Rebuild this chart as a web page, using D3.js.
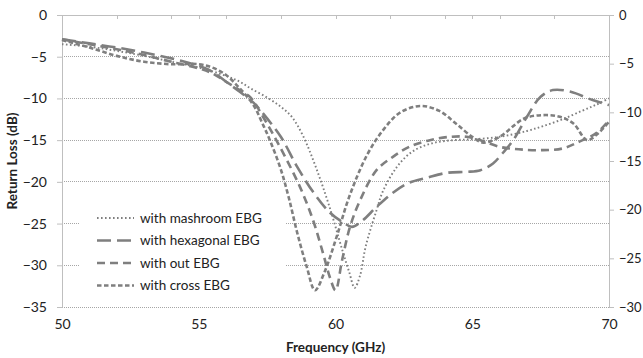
<!DOCTYPE html>
<html><head><meta charset="utf-8">
<script src="https://cdn.jsdelivr.net/npm/d3@7"></script>
<style>
body{margin:0;background:#fff;}
svg{display:block;}
text{font-family:Lato,"Open Sans",sans-serif;fill:#222;}
</style></head><body>
<svg id="c" width="643" height="358"></svg>
<script>
// ---- data ----
const leftTicks = [0,-5,-10,-15,-20,-25,-30,-35];
const rightTicks = [0,-5,-10,-15,-20,-25,-30];
const xTicks = [50,55,60,65,70];
const seriesNames = ["with mashroom EBG","with hexagonal EBG","with out EBG","with cross EBG"];

const mashroomF = [50,51,52,53,54,55,56,56.5,56.9,57.5,58,58.4,58.8,59.3,59.8,60.25,60.5,60.7,60.9,61.1,61.5,61.75,62.25,62.8,63.5,64.3,65,66,67,67.6,68.3,69,69.5,70];
const mashroomV = [-3.5,-3.8,-4.3,-4.9,-5.6,-6.3,-7.3,-8.0,-8.8,-9.9,-11.0,-12.2,-14.4,-18.4,-23.2,-28.2,-30.8,-32.7,-31.2,-27.8,-23.4,-21.0,-18.2,-16.4,-15.4,-15.0,-14.9,-14.6,-13.9,-13.3,-12.5,-11.5,-10.8,-10.0];

const hexagonalF = [50,51,52,53,54,55,55.5,56,56.5,57,57.3,58,58.6,59.2,59.8,60.3,60.6,61.0,61.5,62.1,62.7,63.35,64.1,64.8,65.3,65.76,66.1,66.5,67,67.5,67.95,68.6,69.4,70];
const hexagonalV = [-2.9,-3.4,-3.9,-4.5,-5.2,-6.1,-6.8,-8.0,-9.2,-10.5,-11.6,-14.6,-18.2,-21.3,-23.7,-24.9,-25.4,-24.6,-23.0,-21.3,-20.1,-19.5,-18.9,-18.8,-18.6,-17.8,-16.6,-15.0,-12.2,-9.8,-9.0,-9.2,-10.2,-10.8];

const outF = [50,51,52,53,54,55,55.5,56,56.5,56.9,57.35,57.7,58.08,58.7,59.18,59.54,59.8,60.0,60.24,60.53,60.9,61.5,62.1,62.7,63.45,64.2,64.8,65.3,66,66.7,67.5,68.3,68.9,69.56,70];
const outV = [-2.9,-3.5,-4.1,-4.8,-5.6,-6.4,-7.0,-8.0,-9.0,-9.9,-12.2,-14.2,-16.5,-20.6,-24.6,-28.5,-31.5,-33.0,-29.4,-25.4,-22.2,-18.6,-17.0,-15.8,-15.0,-14.6,-14.6,-15.0,-15.8,-16.1,-16.2,-16.0,-15.2,-14.1,-12.6];

const crossF = [50,51,52,53,54,55,55.5,56,56.5,57,57.3,57.6,58.0,58.3,58.6,58.95,59.25,59.6,60.05,60.5,61.15,61.74,62.36,63.1,63.8,64.4,65.0,65.4,66.0,66.9,67.6,68.2,68.7,69.2,69.6,70];
const crossV = [-3.0,-3.9,-4.9,-5.6,-5.9,-5.9,-6.3,-7.2,-8.8,-10.8,-12.8,-15.0,-18.5,-22.0,-26.1,-30.2,-33.0,-30.8,-26.5,-21.8,-16.8,-13.8,-11.7,-10.9,-11.5,-13.0,-14.6,-15.3,-14.6,-12.4,-12.0,-12.2,-13.0,-15.0,-14.2,-12.8];

// ---- layout ----
const W=643,H=358, L=62, R=609, T=15, B=307;
const svg=d3.select("#c");
const x=d3.scaleLinear().domain([50,70]).range([L,R]);
const yL=d3.scaleLinear().domain([-35,0]).range([B,T]);
const yR=d3.scaleLinear().domain([-30,0]).range([B,T]);
const grey="#7f7f7f", axisCol="#bfbfbf", gridCol="#a6a6a6";
const FONT="Lato,'Open Sans',sans-serif";

// gridlines
svg.append("g").selectAll("line").data(leftTicks.filter(d=>d!==0)).join("line")
  .attr("x1",L).attr("x2",R).attr("y1",d=>yL(d)).attr("y2",d=>yL(d))
  .attr("stroke",gridCol).attr("stroke-width",1).attr("stroke-dasharray","1,1")
  .attr("shape-rendering","crispEdges");

// top axis line with ticks
svg.append("line").attr("x1",L).attr("x2",R).attr("y1",T+0.5).attr("y2",T+0.5)
  .attr("stroke",axisCol).attr("stroke-width",1);
const topTicks=d3.range(50,70.01,2).concat([55,65]);
svg.append("g").selectAll("line").data(topTicks).join("line")
  .attr("x1",d=>Math.round(x(d))+0.5).attr("x2",d=>Math.round(x(d))+0.5)
  .attr("y1",T).attr("y2",T+4).attr("stroke",axisCol);

// left axis
const gl=svg.append("g").attr("transform",`translate(${L},0)`)
  .call(d3.axisLeft(yL).tickValues(leftTicks).tickSize(5).tickPadding(10).tickFormat(d3.format("d")));
gl.select(".domain").attr("stroke",axisCol);
gl.selectAll(".tick line").attr("stroke",axisCol);
gl.selectAll("text").attr("font-size",14).attr("fill","#222").style("font-family",FONT);

// right axis
const gr=svg.append("g").attr("transform",`translate(${R},0)`)
  .call(d3.axisRight(yR).tickValues(rightTicks).tickSize(5).tickPadding(5).tickFormat(d3.format("d")));
gr.select(".domain").attr("stroke",axisCol);
gr.selectAll(".tick line").attr("stroke",axisCol);
gr.selectAll("text").attr("font-size",13).attr("fill","#222").style("font-family",FONT);

// bottom x labels
const gb=svg.append("g").attr("transform",`translate(0,${B})`)
  .call(d3.axisBottom(x).tickValues(xTicks).tickSize(0).tickPadding(12).tickFormat(d3.format("d")));
gb.select(".domain").remove();
gb.selectAll("text").attr("font-size",14).attr("fill","#222").style("font-family",FONT);

// axis titles
svg.append("text").attr("x",(L+R)/2).attr("y",352).attr("text-anchor","middle")
  .attr("font-size",13.5).attr("font-weight","bold").text("Frequency (GHz)");
svg.append("text").attr("transform",`translate(17,${(T+B)/2}) rotate(-90)`).attr("text-anchor","middle")
  .attr("font-size",13.5).attr("font-weight","bold").text("Return Loss (dB)");

// legend background
svg.append("rect").attr("x",79).attr("y",198).attr("width",206).attr("height",100).attr("fill","#fff");

// series
const styles=[
  {w:1.9,dash:"1.6,2.4",cap:"butt"},
  {w:2.6,dash:"14,6",cap:"butt"},
  {w:2.6,dash:"8,5",cap:"butt"},
  {w:2.6,dash:"4.5,2.5",cap:"butt"}
];
const seriesF=[mashroomF,hexagonalF,outF,crossF];
const seriesV=[mashroomV,hexagonalV,outV,crossV];
const line=d3.line().x(d=>x(d[0])).y(d=>yL(d[1])).curve(d3.curveCatmullRom.alpha(0.5));
const plot=svg.append("g");
seriesF.forEach((fs,i)=>{
  const pts=fs.map((f,j)=>[f,seriesV[i][j]]);
  plot.append("path").attr("d",line(pts)).attr("fill","none").attr("stroke",grey)
    .attr("stroke-width",styles[i].w).attr("stroke-dasharray",styles[i].dash).attr("stroke-linecap",styles[i].cap);
});

// legend
const lg=svg.append("g");
seriesNames.forEach((n,i)=>{
  const yy=218+i*22.5;
  lg.append("line").attr("x1",97).attr("x2",134).attr("y1",yy).attr("y2",yy)
    .attr("stroke",grey).attr("stroke-width",styles[i].w).attr("stroke-dasharray",styles[i].dash);
  lg.append("text").attr("x",140).attr("y",yy+4.5).attr("font-size",13.5).text(n);
});
</script>
</body></html>
